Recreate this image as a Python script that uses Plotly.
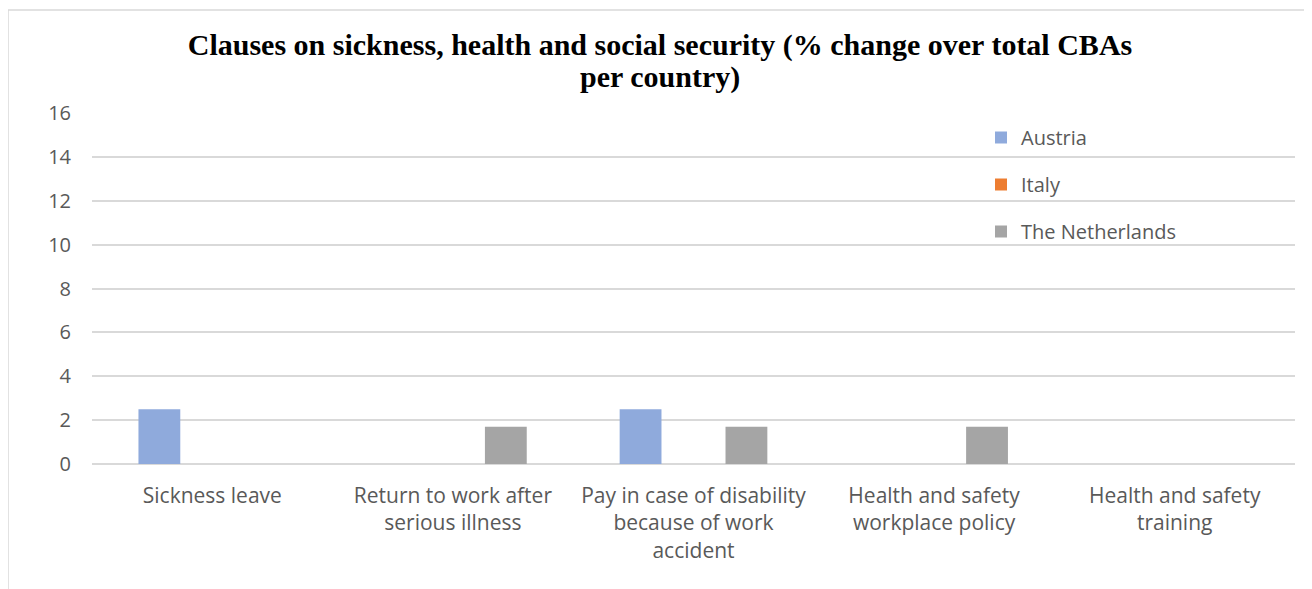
import plotly.graph_objects as go

categories = ["Sickness leave", "Return to work after<br>serious illness",
              "Pay in case of disability<br>because of work<br>accident",
              "Health and safety<br>workplace policy", "Health and safety<br>training"]
austria = [2.5, 0, 2.5, 0, 0]
italy = [0, 0, 0, 0, 0]
netherlands = [0, 1.7, 1.7, 1.7, 0]
series = [("Austria", austria, "#8FAADC"), ("Italy", italy, "#ED7D31"),
          ("The Netherlands", netherlands, "#A5A5A5")]
title_line1 = "Clauses on sickness, health and social security (% change over total CBAs"
title_line2 = "per country)"

fig = go.Figure()
for name, vals, col in series:
    fig.add_trace(go.Bar(x=categories, y=vals, name=name, marker_color=col,
                         marker_line_width=0, legendgroup=name))

# page body has an 8px margin, so the figure is drawn 8px right/down
W, H = 1304, 581
l, r, t, b = 84, 17, 105, 125
pw, ph = W - l - r, H - t - b

def py(yfig):
    return (H - b - yfig) / ph

def px(xfig):
    return (xfig - l) / pw

fig.update_layout(
    width=W, height=H,
    margin=dict(l=l, r=r, t=t, b=b),
    paper_bgcolor="white", plot_bgcolor="white",
    barmode="group", bargap=0.34, bargroupgap=0.21,
    title=dict(text="<b>" + title_line1 + "</b>",
               x=0.5, xanchor="center", xref="container",
               y=1 - 36 / H, yanchor="middle", yref="container",
               font=dict(family="Liberation Serif", size=30, color="black")),
    annotations=[dict(text="<b>" + title_line2 + "</b>", xref="paper", yref="paper",
                      x=px(W / 2), y=py(69), xanchor="center", yanchor="middle",
                      showarrow=False,
                      font=dict(family="Liberation Serif", size=30, color="black"))],
    font=dict(family="Open Sans", size=20, color="#595959"),
    legend=dict(x=px(973), y=py(110), xanchor="left", yanchor="top",
                bgcolor="rgba(0,0,0,0)", tracegroupgap=18, itemwidth=30,
                font=dict(size=20, color="#595959")),
    yaxis=dict(range=[0, 16], dtick=2, showgrid=True, gridcolor="#D9D9D9", gridwidth=1.5,
               zeroline=True, zerolinecolor="#D9D9D9", zerolinewidth=1.5,
               showline=False, ticks="", tickfont=dict(size=20, color="#595959"),
               ticklabelstandoff=20),
    xaxis=dict(showline=False, ticks="", tickfont=dict(size=21, color="#595959"),
               tickangle=0, ticklabelstandoff=17),
    shapes=[dict(type="rect", xref="paper", yref="paper",
                 x0=px(0), x1=px(1297),
                 y0=py(620), y1=py(2),
                 line=dict(color="#D9D9D9", width=1.5), fillcolor="rgba(0,0,0,0)", layer="below")],
)

fig.write_html("out.html")
